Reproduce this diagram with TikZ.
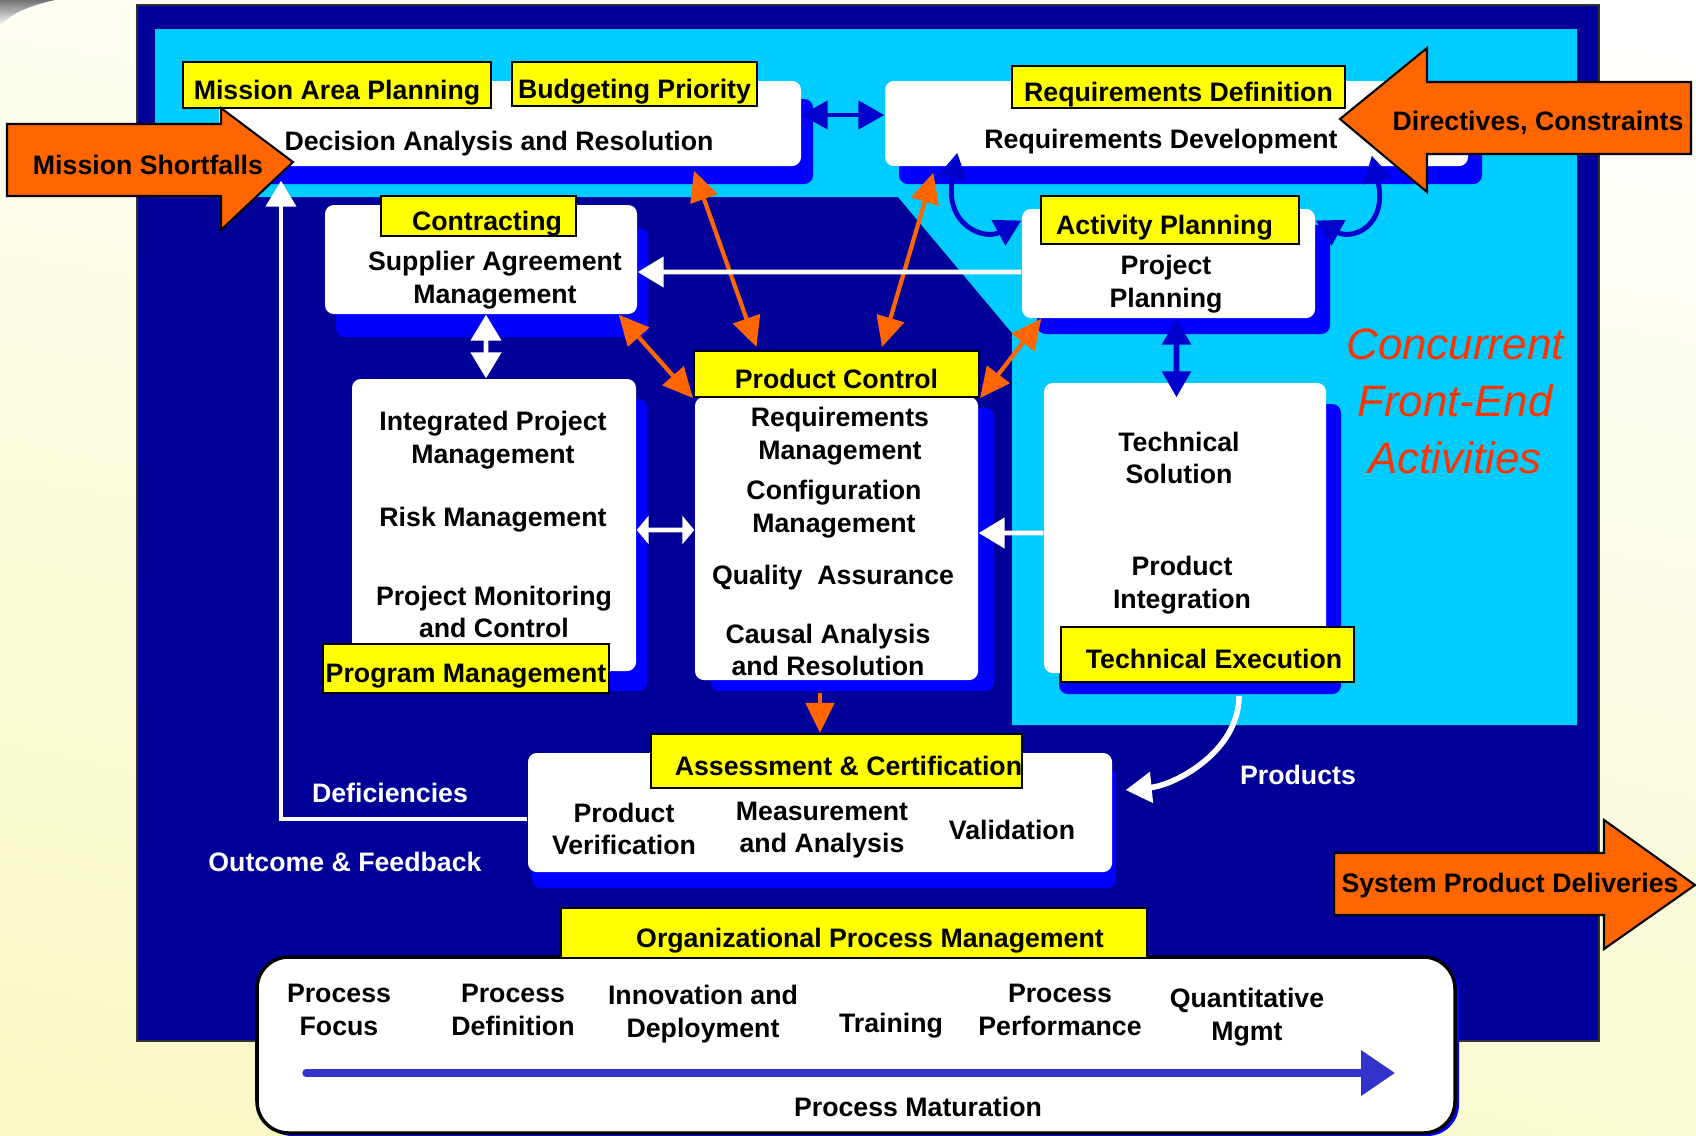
\documentclass[tikz,border=0pt]{standalone}
\usepackage{fontspec}
\setmainfont{Liberation Sans}
\usetikzlibrary{positioning,fit,calc,shadows,shadings,arrows.meta}
\definecolor{navy}{HTML}{000099}
\definecolor{skycyan}{HTML}{00CCFF}
\definecolor{shadowblue}{HTML}{0000FF}
\definecolor{arrblue}{HTML}{0000CC}
\definecolor{arrorange}{HTML}{FF6600}
\definecolor{tagyellow}{HTML}{FFFF00}
\definecolor{matblue}{HTML}{3333CC}
\definecolor{cfered}{HTML}{FF3300}
\definecolor{bgul}{HTML}{FEFEF2}
\definecolor{bgll}{HTML}{F8F8C2}
\definecolor{bglr}{HTML}{FAFAD4}
\tikzset{card/.style={fill=white, rounded corners=2.5pt, inner sep=0pt}}
\tikzset{dshade/.style 2 args={drop shadow={shadow xshift=#1, shadow yshift=#2, fill=shadowblue, opacity=1}}}
\tikzset{tag/.style={draw=black, line width=0.6pt, fill=tagyellow, inner sep=0pt, text height=3.4mm, text depth=0.6mm, font=\fontsize{7.6}{9.2}\selectfont\bfseries}}
\tikzset{txt/.style={inner sep=0pt, align=center, font=\fontsize{7.6}{9.2}\selectfont\bfseries}}
\tikzset{wtxt/.style={txt, text=white}}
\tikzset{blockarr/.style={draw=black, line width=0.6pt, fill=arrorange, line join=miter}}
\tikzset{otip/.tip={Triangle[length=3mm,width=2.8mm]}}
\tikzset{btip/.tip={Triangle[length=2.6mm,width=2.8mm]}}
\tikzset{wtip/.tip={Triangle[length=2.6mm,width=3mm]}}
\tikzset{stip/.tip={Triangle[length=1.2mm,width=2.8mm]}}
\tikzset{mtip/.tip={Triangle[length=3.4mm,width=4.4mm]}}
\tikzset{oarr/.style={draw=arrorange, line width=1.2pt, otip-otip}}
\tikzset{oarr1/.style={draw=arrorange, line width=1.2pt, -otip}}
\tikzset{barr/.style={draw=arrblue, line width=1.4pt, btip-btip}}
\tikzset{warr/.style={draw=white, line width=1.3pt, -wtip}}
\tikzset{warr2/.style={draw=white, line width=1.3pt, wtip-wtip}}
\tikzset{warrs/.style={draw=white, line width=1.3pt, stip-stip}}
\tikzset{matarr/.style={draw=matblue, line width=2.1pt, line cap=round, -mtip}}

\begin{document}
\begin{tikzpicture}[x=0.1mm, y=-0.1mm]
  \useasboundingbox (0,0) rectangle (1696,1135);
  \shade[upper left=bgul, upper right=white, lower left=bgll, lower right=bglr] (0,0) rectangle (1696,1135);
  \shade[top color=black!55, bottom color=white] (0,0) -- (55,0) .. controls (28,6) and (10,14) .. (0,26) -- cycle;
  %
  \fill[navy, draw=black!80, line width=0.6pt] (137,5) rectangle (1599,1041);
  \fill[skycyan] (155,29) -- (1577,29) -- (1577,725) -- (1012,725) -- (1012,333) -- (898,197) -- (155,197) -- cycle;
  %
  \node[card, dshade={1.2mm}{-1.8mm}, fit={(219,81) (801,166)}] (dar) {};
  \node[card, dshade={1.4mm}{-1.8mm}, fit={(885,81) (1468,166)}] (rqd) {};
  \node[card, dshade={1.1mm}{-2.3mm}, fit={(325,205) (637,314)}] (sam) {};
  \node[card, dshade={1.5mm}{-1.6mm}, fit={(1022,209) (1315,318)}] (ppl) {};
  \node[card, dshade={1.1mm}{-2.0mm}, fit={(352,379) (636,671)}] (pgm) {};
  \node[card, dshade={1.6mm}{-1.1mm}, fit={(695,397) (978,680)}] (pcb) {};
  \node[card, dshade={1.5mm}{-2.1mm}, fit={(1044,383) (1326,673)}] (tsb) {};
  \node[card, dshade={0.4mm}{-1.6mm}, fit={(528,753) (1112,872)}] (acb) {};
  \node[card, draw=black, line width=1pt, rounded corners=9pt, dshade={0.4mm}{-0.3mm}, fit={(257,957) (1455,1133)}] (opb) {};
  %
  \node[tag, minimum width=30.8mm, minimum height=4.6mm] (map) at (337,85) {Mission Area Planning};
  \node[tag, minimum width=24.5mm, minimum height=4.4mm] (bpr) at (634.5,84) {Budgeting Priority};
  \node[tag, minimum width=33.3mm, minimum height=4.2mm] (rdf) at (1178.5,87) {Requirements Definition};
  \node[tag, minimum width=19.5mm, minimum height=4mm] (ctr) at (478.5,216) {\hspace*{1.7mm}Contracting};
  \node[tag, minimum width=25.8mm, minimum height=4.8mm] (apl) at (1170,220) {Activity Planning\hspace*{1.1mm}};
  \node[tag, minimum width=28.5mm, minimum height=4.6mm] (pct) at (836.5,374) {Product Control};
  \node[tag, minimum width=28.6mm, minimum height=4.9mm] (prm) at (466,668.5) {Program Management};
  \node[tag, minimum width=29.3mm, minimum height=5.5mm] (tex) at (1207.5,654.5) {\hspace*{1.3mm}Technical Execution};
  \node[tag, minimum width=37.1mm, minimum height=5.4mm] (asc) at (836.5,761) {\hspace*{2.4mm}Assessment \& Certification};
  \node[tag, minimum width=58.6mm, minimum height=5mm] (opm) at (854,933) {\hspace*{3.2mm}Organizational Process Management};
  %
  \node[txt] (dart) at (499,144) {Decision Analysis and Resolution};
  \node[txt] (rqdt) at (1161,142) {Requirements Development};
  \node[txt] (samt) at (495,280) {Supplier Agreement\\Management};
  \node[txt] (pplt) at (1166,284) {Project\\Planning};
  \node[txt] (ipm) at (493,440) {Integrated Project\\Management};
  \node[txt] (rsk) at (493,520) {Risk Management};
  \node[txt] (pmc) at (494,612) {Project Monitoring\\and Control};
  \node[txt] (rqm) at (840,436) {Requirements\\Management};
  \node[txt] (cfg) at (834,509) {Configuration\\Management};
  \node[txt] (qas) at (833,578) {Quality\ \ Assurance};
  \node[txt] (car) at (828,650) {Causal Analysis\\and Resolution};
  \node[txt] (tso) at (1179,458) {Technical\\Solution};
  \node[txt] (pin) at (1182,585) {Product\\Integration};
  \node[txt] (pver) at (624,829) {Product\\Verification};
  \node[txt] (man) at (822,830) {Measurement\\and Analysis};
  \node[txt] (val) at (1012,830) {Validation};
  \node[txt] (pfo) at (339,1010) {Process\\Focus};
  \node[txt] (pde) at (513,1010) {Process\\Definition};
  \node[txt] (ide) at (703,1014) {Innovation and\\Deployment};
  \node[txt] (trn) at (891,1026) {Training};
  \node[txt] (ppe) at (1060,1010) {Process\\Performance};
  \node[txt] (qmg) at (1247,1017) {Quantitative\\Mgmt};
  \node[txt] (pmat) at (918,1107) {Process Maturation};
  \node[wtxt] (dfc) at (390,793) {Deficiencies};
  \node[wtxt] (ofb) at (345,862) {Outcome \& Feedback};
  \node[wtxt] (prd) at (1298,775) {Products};
  \node[txt, text=cfered, font=\fontsize{12.5}{16.2}\selectfont\itshape] (cfe) at (1455,401) {Concurrent\\Front-End\\Activities};
  %
  \draw[barr] ([yshift=0.85mm]dar.east) -- ([yshift=0.85mm]rqd.west);
  \draw[barr] ([xshift=7.3mm,yshift=1.4mm]rqd.south west) .. controls +(-14,73) and +(-37,20) .. ([yshift=4.3mm]ppl.west);
  \draw[barr] ([xshift=-9.7mm,yshift=1.1mm]rqd.south east) .. controls +(17,70) and +(37,20) .. ([yshift=4.3mm]ppl.east);
  \draw[barr, line width=1.6pt] ([xshift=0.8mm]ppl.south) -- ([xshift=-0.85mm,yshift=-1.5mm]tsb.north);
  %
  \draw[oarr] ([xshift=18.4mm,yshift=-0.4mm]dar.south) -- ([xshift=-8mm,yshift=0.3mm]pct.north);
  \draw[oarr] ([xshift=-1.9mm]sam.south east) -- (pct.south west);
  \draw[oarr] ([xshift=4.9mm,yshift=-0.6mm]rqd.south west) -- ([xshift=4.55mm,yshift=0.3mm]pct.north);
  \draw[oarr] ([xshift=2mm]ppl.south west) -- (pct.south east);
  \draw[oarr1] ([xshift=-1.65mm,yshift=-1.2mm]pcb.south) -- ([xshift=-1.65mm]asc.north);
  %
  \draw[warr] ([yshift=-0.85mm]ppl.west) -- ([yshift=-1.25mm]sam.east);
  \draw[warr2] ([xshift=0.5mm]sam.south) -- ([xshift=-0.8mm]pgm.north);
  \draw[warrs] ([yshift=-0.5mm]pgm.east) -- ([yshift=0.85mm]pcb.west);
  \draw[warr] ([yshift=-0.5mm]tsb.west) -- ([yshift=0.55mm]pcb.east);
  \draw[warr] ([yshift=-0.65mm]acb.west) -| ([xshift=-22.9mm,yshift=-1.4mm]dar.south);
  \draw[warr, line width=1.6pt] ([xshift=3.15mm,yshift=-1.3mm]tex.south) .. controls +(0,55) and +(50,-5) .. ([xshift=1.3mm,yshift=2.25mm]acb.east);
  %
  \coordinate (pm0) at (306,1073);
  \coordinate (pm1) at (1395,1073);
  \draw[matarr] (pm0) -- (pm1);
  %
  \draw[blockarr] (7,124) -- (221,124) -- (221,108) -- (293,162) -- (221,230) -- (221,196) -- (7,196) -- cycle;
  \node[txt] (msf) at (148,165) {Mission Shortfalls};
  \draw[blockarr] (1691,82) -- (1427,82) -- (1427,48) -- (1340,119) -- (1427,192) -- (1427,154) -- (1691,154) -- cycle;
  \node[txt] (dcs) at (1538,123) {Directives, Constraints};
  \draw[blockarr] (1334,853) -- (1604,853) -- (1604,820) -- (1695,885) -- (1604,949) -- (1604,915) -- (1334,915) -- cycle;
  \node[txt] (spd) at (1510,886) {System Product Deliveries};
\end{tikzpicture}
\end{document}
